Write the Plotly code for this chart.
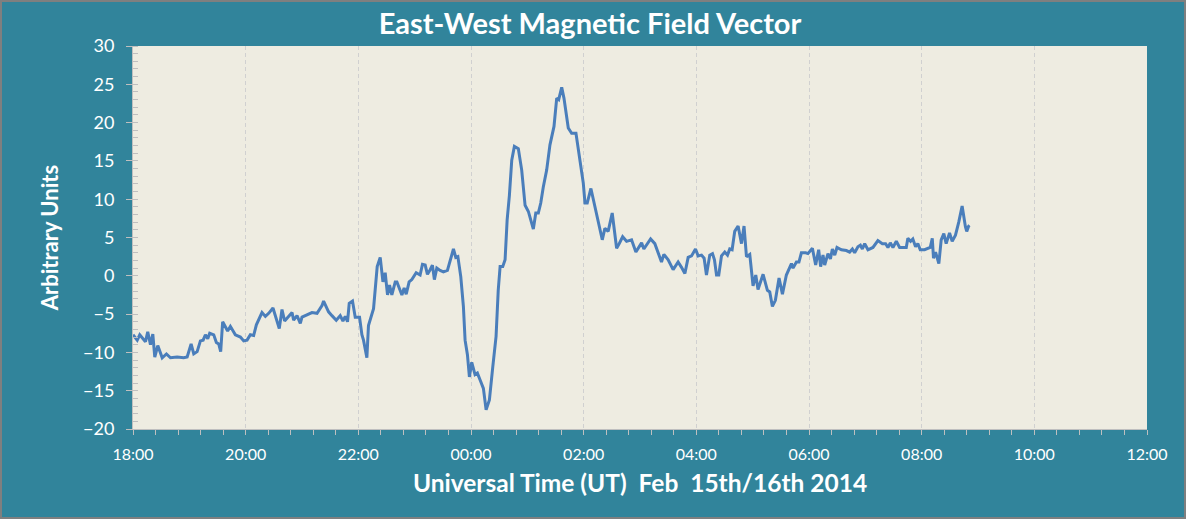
import pandas as pd
import plotly.graph_objects as go

# Minutes after 18:00 UT on Feb 15th 2014, and the East-West field value
minutes_after_1800 = [
    0, 4.5, 7.2, 13.3, 15.7, 18.6, 21.1, 23.2, 26.4, 31.1, 35.6, 39.9, 47, 54.0, 57.7,
    61.9, 64.7, 68.3, 71.8, 74.7, 77.1, 79.6, 81.7, 86.0, 88.8, 91.3, 93.4, 95.5,
    100.8, 103.7, 109.0, 114.4, 117.9, 121.5, 125.0, 128.5, 131.4, 137.4, 141.0,
    144.5, 149.1, 152.3, 155.8, 158.7, 161.5, 169.4, 171.1, 174.7, 178.2, 180.0,
    185.3, 190.6, 196.0, 201.3, 203.0, 208.3, 211.9, 216.5, 220.7, 223.6, 226.1,
    228.5, 230.3, 233.8, 236.7, 241.3, 243.8, 245.5, 249.1, 250.8, 256.2, 260.1,
    263.3, 266.2, 268.6, 271.1, 273.2, 275.7, 279.3, 281.1, 286.4, 288.8, 291.0,
    294.1, 297.0, 301.6, 305.8, 308.3, 311.2, 313.6, 316.5, 318.9, 321.0, 323.6,
    327.1, 330.6, 334.9, 338.5, 341.3, 343.8, 346.0, 349.1, 351.9, 353.7, 356.2,
    358.3, 360.8, 364.3, 366.8, 369.7, 373.2, 376.1, 379.6, 383.2, 386.7, 389.0,
    391.0, 393.8, 396.3, 398.5, 400.9, 403.4, 406.2, 410.4, 414.0, 417.6, 421.1,
    426.4, 429.0, 431.7, 434.3, 437.0, 440.6, 444.1, 448.4, 451.3, 453.4, 456.6,
    459.0, 463.6, 467.2, 471.8, 476.0, 479.6, 481.4, 483.8, 487.7, 492.0, 497.3,
    499.8, 502.6, 506.1, 510.4, 512.2, 515.1, 517.9, 521.5, 525.7, 531.0, 535.6,
    541.7, 544.1, 551.3, 555.8, 559.3, 562.9, 565.4, 570.0, 575.3, 580.6, 584.2,
    587.8, 591.3, 594.9, 599.1, 601.9, 605.5, 608.3, 610.8, 614.3, 617.2, 619.3,
    621.5, 623.9, 626.8, 630.3, 633.2, 635.6, 638.1, 640.9, 644.5, 648.1, 650.8,
    653.4, 656.9, 660.4, 663.3, 665.7, 671.1, 675.7, 678.2, 681.0, 684.2, 688.1,
    691.7, 695.9, 701.3, 703.0, 706.6, 709.3, 711.9, 716.5, 718.9, 723.6, 727.1,
    730.3, 732.4, 734.9, 736.7, 740.2, 742.8, 744.9, 747.4, 749.8, 754.5, 759.8,
    763.3, 766.2, 768.6, 772.1, 774.7, 776.8, 779.3, 782.8, 788.1, 793.4, 798.1,
    801.6, 804.1, 806.6, 809.4, 813.0, 816.5, 823.6, 825.3, 828.2, 830.6, 833.5,
    835.9, 838.5, 843.1, 846.6, 849.1, 851.3, 852.6, 854.8, 858.3, 860.8, 863.6,
    866.1, 869.7, 872.5, 876.0, 879.5, 883.1, 886.6, 888.0, 890.1, 890.9,
]
field_values = [
    -7.7, -8.4, -7.7, -8.6, -7.3, -9.0, -7.6, -10.6, -9.1, -10.7, -10.2, -10.7, -10.6, -10.7, -10.6,
    -8.9, -10.2, -9.9, -8.5, -8.4, -7.7, -8.2, -7.5, -7.7, -8.7, -8.9, -9.9, -6.0,
    -7.2, -6.6, -7.7, -8.0, -8.5, -8.4, -7.7, -7.8, -6.4, -4.8, -5.3,
    -4.9, -4.2, -5.4, -6.9, -4.4, -5.9, -4.8, -5.8, -5.2, -6.2, -5.4,
    -5.1, -4.8, -4.9, -3.9, -3.3, -4.7, -5.2, -5.8, -5.2, -5.9, -5.3,
    -6.0, -3.6, -3.3, -5.4, -5.4, -7.7, -8.4, -10.7, -6.5, -4.3, 1.2,
    2.4, -0.8, 0.4, -2.5, -1.2, -2.5, -0.8, -0.8, -2.5, -1.6, -2.4,
    -0.8, -0.5, 0.4, 0.1, 1.5, 1.4, 0.2, 0.8, 1.4, -0.5, 1.0,
    0.7, 0.5, 0.7, 2.5, 3.5, 2.4, 2.5, -0.1, -4.0, -8.4, -10.3,
    -13.2, -11.3, -12.9, -12.7, -13.6, -14.7, -17.5, -16.2, -11.9, -7.9, -1.9,
    1.2, 1.2, 2.1, 7.3, 10.5, 15.1, 16.9, 16.6, 13.8, 9.2, 8.4,
    6.1, 8.2, 8.2, 9.5, 11.6, 13.8, 17.1, 19.5, 23.2, 23.0, 24.6,
    23.2, 19.3, 18.6, 18.6, 14.7, 12.1, 9.5, 9.5, 11.4, 9.0, 6.0,
    4.7, 6.2, 5.8, 8.2, 6.4, 3.6, 4.2, 5.1, 4.5, 4.7, 3.1,
    4.3, 3.5, 4.8, 4.2, 3.0, 1.8, 2.8, 2.1, 0.8, 1.8, 1.1,
    0.3, 2.4, 2.6, 3.5, 2.6, 2.7, 2.3, 0.1, 2.7, 2.9, 2.1,
    0.1, 0.1, 2.6, 3.1, 2.7, 3.5, 3.4, 5.8, 6.5, 4.2, 6.5,
    2.5, 2.8, -1.3, 0.1, -1.8, 0.2, -1.9, -2.1, -4.0, -3.2, -0.3,
    -2.4, 0.1, 1.6, 1.0, 1.8, 1.8, 3.0, 3.0, 2.9, 3.6, 1.4,
    3.4, 1.2, 2.7, 1.4, 2.9, 2.2, 3.5, 2.7, 3.7, 3.4, 3.3,
    3.1, 3.5, 3.0, 3.8, 4.0, 3.5, 4.2, 3.4, 3.7, 4.6, 4.2,
    4.2, 3.7, 4.3, 3.7, 4.5, 3.7, 3.7, 4.9, 4.5, 4.8, 3.8,
    4.2, 3.4, 3.4, 3.6, 3.7, 4.9, 2.3, 3.1, 1.6, 4.7, 5.5,
    4.2, 5.6, 4.5, 5.3, 7.0, 9.1, 6.4, 5.8, 6.5, 6.6,
]

start_time = "2014-02-15 18:00"
end_time = "2014-02-16 12:00"
title_text = "East-West Magnetic Field Vector"
x_title = "Universal Time (UT)  Feb  15th/16th 2014"
y_title = "Arbitrary Units"

times = pd.Timestamp(start_time) + pd.to_timedelta(minutes_after_1800, unit="min")

W, H = 1186, 519
ML, MR, MT, MB = 133, 39, 46, 90
PW, PH = W - ML - MR, H - MT - MB

TEAL = "#31849B"
PLOT_BG = "#EEECE1"
LINE = "#4A7EBB"
TICK = "#BFBFBF"
FONT = "Lato"

fig = go.Figure()
fig.add_trace(go.Scatter(
    x=times, y=field_values, mode="lines",
    line=dict(color=LINE, width=3), showlegend=False,
))

fig.update_layout(
    width=W, height=H,
    margin=dict(l=ML, r=MR, t=MT, b=MB),
    paper_bgcolor=TEAL, plot_bgcolor=PLOT_BG,
    font=dict(family=FONT, color="white", size=16),
    title=dict(text="<b>" + title_text + "</b>", x=0.4975, xref="container", xanchor="center",
               y=1 - 24 / H, yref="container", yanchor="middle",
               font=dict(family=FONT, size=29, color="white")),
)
fig.update_xaxes(
    type="date", range=[start_time, end_time],
    tickformat="%H:%M", dtick=7200000, tick0=start_time,
    ticks="outside", ticklen=5, tickcolor=TICK, tickwidth=1,
    minor=dict(dtick=1440000, ticks="outside", ticklen=5, tickcolor=TICK, showgrid=False),
    showline=True, linecolor=TICK, linewidth=1,
    showgrid=True, gridcolor="#D0D0D0", griddash="4px,3px", gridwidth=1,
    tickfont=dict(family=FONT, size=16, color="white"),
    ticklabelstandoff=6,
    title=dict(text="<b>" + x_title + "</b>", font=dict(family=FONT, size=24.5, color="white"), standoff=12),
    zeroline=False,
)
fig.update_yaxes(
    range=[-20, 30], dtick=5, tick0=0,
    ticks="outside", ticklen=6, tickcolor=TICK, tickwidth=1,
    minor=dict(dtick=1, ticks="inside", ticklen=5, tickcolor=TICK, showgrid=False),
    showline=True, linecolor=TICK, linewidth=1,
    showgrid=False, zeroline=False,
    tickfont=dict(family=FONT, size=18, color="white"),
    ticklabelstandoff=8,
    title=dict(text="<b>" + y_title + "</b>", font=dict(family=FONT, size=22, color="white"), standoff=18),
)

# thin grey frame around the whole chart
fig.add_shape(type="rect", xref="paper", yref="paper",
              x0=-(ML - 1) / PW, x1=(W - ML - 1) / PW,
              y0=-(MB - 1) / PH, y1=(H - MB - 1) / PH,
              line=dict(color="#7F7F7F", width=2), fillcolor="rgba(0,0,0,0)", layer="above")

fig.write_html("out.html")
